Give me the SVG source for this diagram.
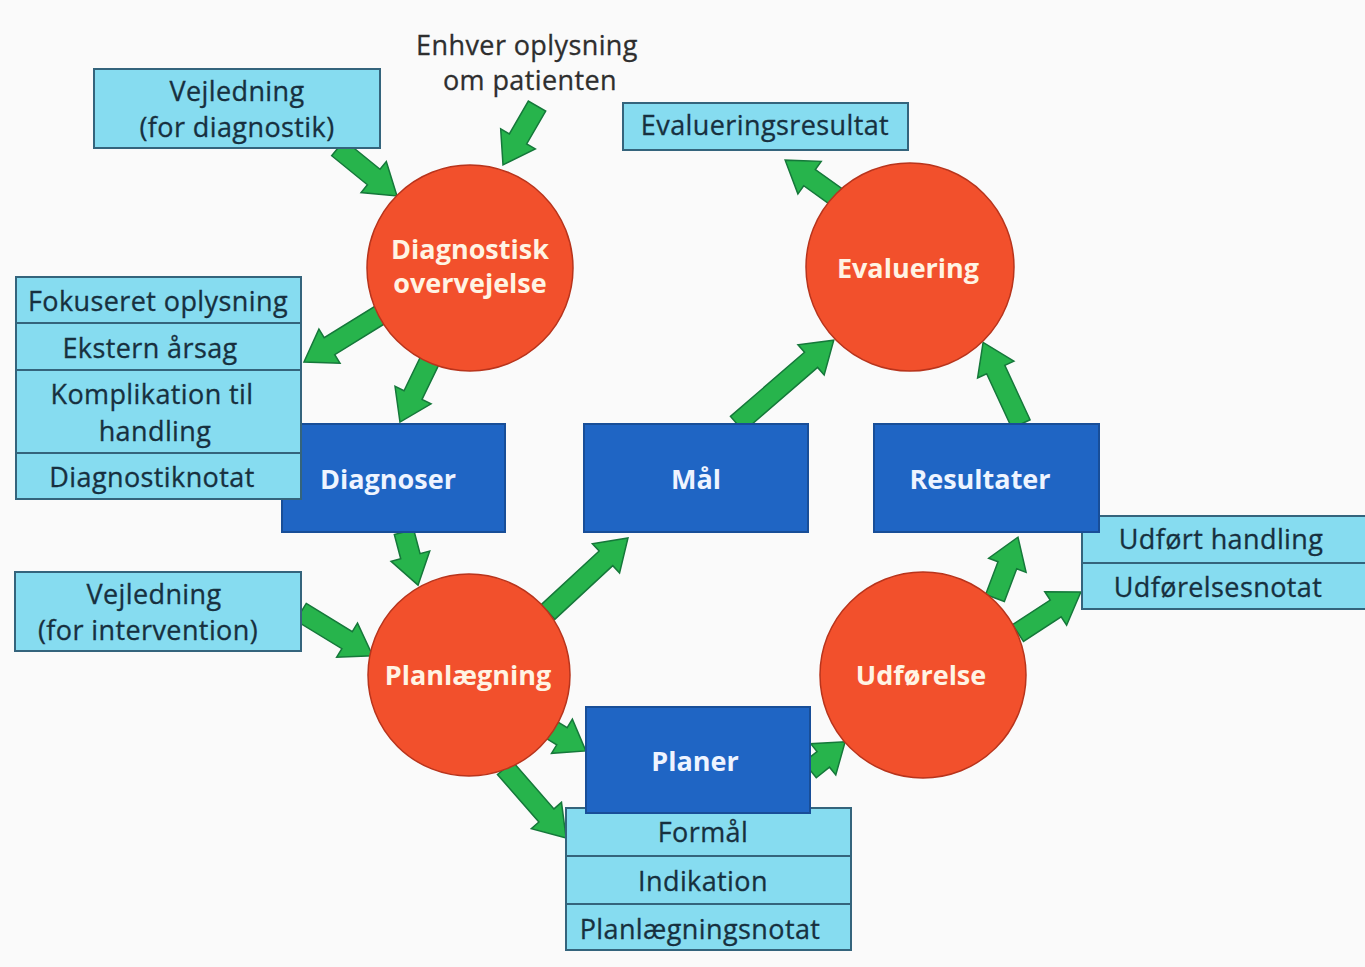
<svg xmlns="http://www.w3.org/2000/svg" width="1365" height="967" viewBox="0 0 1365 967">
  <style>
    .bg { fill: #fafafa; }
    .circle { fill: #f2502c; stroke: #b8341c; stroke-width: 1.5; }
    .proc { fill: #1f65c4; stroke: #184e98; stroke-width: 2; }
    .info { fill: #86dcf0; stroke: #34647c; stroke-width: 2; }
    .arrow { fill: #27b44c; stroke: #15783a; stroke-width: 1.5; stroke-linejoin: miter; }
    text { font-family: "Open Sans", "Noto Sans", "Liberation Sans", sans-serif; text-anchor: middle; }
    .lbl { font-size: 27px; letter-spacing: 0.4px; fill: #17303f; stroke: #17303f; stroke-width: 0.3; }
    .cl { font-size: 27px; font-weight: bold; fill: #fff4e4; }
    .pl { font-size: 27px; font-weight: bold; fill: #eef4ff; }
    .free { font-size: 27px; letter-spacing: 0.4px; fill: #2e2e2e; stroke: #2e2e2e; stroke-width: 0.3; }
  </style>

  <rect class="bg" x="0" y="0" width="1365" height="967"/>

  <!-- connectors: each arrow is drawn along +x then placed with translate/rotate -->
  <g id="connectors">
    <path class="arrow" transform="translate(338,148) rotate(39.1)" d="M0,-10 L46,-10 L46,-20 L76,0 L46,20 L46,10 L0,10 Z"/>
    <path class="arrow" transform="translate(537,106) rotate(120)" d="M0,-10 L38,-10 L38,-20 L68,0 L38,20 L38,10 L0,10 Z"/>
    <path class="arrow" transform="translate(383,313) rotate(148.2)" d="M0,-10 L63,-10 L63,-20 L93,0 L63,20 L63,10 L0,10 Z"/>
    <path class="arrow" transform="translate(430,360) rotate(115.8)" d="M0,-10 L39,-10 L39,-20 L69,0 L39,20 L39,10 L0,10 Z"/>
    <path class="arrow" transform="translate(404,532) rotate(75.2)" d="M0,-10 L25,-10 L25,-20 L55,0 L25,20 L25,10 L0,10 Z"/>
    <path class="arrow" transform="translate(301,612) rotate(31.4)" d="M0,-10 L54,-10 L54,-20 L84,0 L54,20 L54,10 L0,10 Z"/>
    <path class="arrow" transform="translate(548,612) rotate(-42.8)" d="M0,-10 L79,-10 L79,-20 L109,0 L79,20 L79,10 L0,10 Z"/>
    <path class="arrow" transform="translate(737,424) rotate(-40.9)" d="M0,-10 L98,-10 L98,-20 L128,0 L98,20 L98,10 L0,10 Z"/>
    <path class="arrow" transform="translate(550,729) rotate(31.4)" d="M0,-10 L14,-10 L14,-20 L42,0 L14,20 L14,10 L0,10 Z"/>
    <path class="arrow" transform="translate(505,768) rotate(48.9)" d="M0,-10 L63,-10 L63,-20 L93,0 L63,20 L63,10 L0,10 Z"/>
    <path class="arrow" transform="translate(810,770) rotate(-38.7)" d="M0,-10 L17,-10 L17,-20 L45,0 L17,20 L17,10 L0,10 Z"/>
    <path class="arrow" transform="translate(995,598) rotate(-69.3)" d="M0,-10 L35,-10 L35,-20 L65,0 L35,20 L35,10 L0,10 Z"/>
    <path class="arrow" transform="translate(1018,633) rotate(-33.1)" d="M0,-10 L45,-10 L45,-20 L75,0 L45,20 L45,10 L0,10 Z"/>
    <path class="arrow" transform="translate(1021,424) rotate(-114.9)" d="M0,-10 L60,-10 L60,-20 L90,0 L60,20 L60,10 L0,10 Z"/>
    <path class="arrow" transform="translate(838,198) rotate(-144.4)" d="M0,-10 L35,-10 L35,-20 L65,0 L35,20 L35,10 L0,10 Z"/>
  </g>

  <!-- free-standing input label -->
  <g id="input-patient">
    <text class="free" x="527" y="55">Enhver oplysning</text>
    <text class="free" x="530" y="90">om patienten</text>
  </g>

  <g id="vejledning-diagnostik">
    <rect class="info" x="94" y="69" width="286" height="79"/>
    <text class="lbl" x="237" y="101">Vejledning</text>
    <text class="lbl" x="237" y="137">(for diagnostik)</text>
  </g>

  <g id="evalueringsresultat">
    <rect class="info" x="623" y="103" width="285" height="47"/>
    <text class="lbl" x="765" y="135">Evalueringsresultat</text>
  </g>

  <!-- process boxes -->
  <g id="diagnoser">
    <rect class="proc" x="282" y="424" width="223" height="108"/>
    <text class="pl" x="388" y="489">Diagnoser</text>
  </g>

  <g id="diagnose-output">
    <rect class="info" x="16" y="277" width="285" height="46"/>
    <rect class="info" x="16" y="323" width="285" height="47"/>
    <rect class="info" x="16" y="370" width="285" height="83"/>
    <rect class="info" x="16" y="453" width="285" height="46"/>
    <text class="lbl" x="158" y="311">Fokuseret oplysning</text>
    <text class="lbl" x="150" y="358">Ekstern årsag</text>
    <text class="lbl" x="152" y="404">Komplikation til</text>
    <text class="lbl" x="155" y="441">handling</text>
    <text class="lbl" x="152" y="487">Diagnostiknotat</text>
  </g>

  <g id="maal">
    <rect class="proc" x="584" y="424" width="224" height="108"/>
    <text class="pl" x="696" y="489">Mål</text>
  </g>

  <g id="udfoerelse-output">
    <rect class="info" x="1082" y="516" width="300" height="47"/>
    <rect class="info" x="1082" y="563" width="300" height="46"/>
    <text class="lbl" x="1221" y="549">Udført handling</text>
    <text class="lbl" x="1218" y="597">Udførelsesnotat</text>
  </g>

  <g id="resultater">
    <rect class="proc" x="874" y="424" width="225" height="108"/>
    <text class="pl" x="980" y="489">Resultater</text>
  </g>

  <g id="vejledning-intervention">
    <rect class="info" x="15" y="572" width="286" height="79"/>
    <text class="lbl" x="154" y="604">Vejledning</text>
    <text class="lbl" x="148" y="640">(for intervention)</text>
  </g>

  <g id="planer-output">
    <rect class="info" x="566" y="808" width="285" height="48"/>
    <rect class="info" x="566" y="856" width="285" height="48"/>
    <rect class="info" x="566" y="904" width="285" height="46"/>
    <text class="lbl" x="703" y="842">Formål</text>
    <text class="lbl" x="703" y="891">Indikation</text>
    <text class="lbl" x="700" y="939">Planlægningsnotat</text>
  </g>

  <g id="planer">
    <rect class="proc" x="586" y="707" width="224" height="106"/>
    <text class="pl" x="695" y="771">Planer</text>
  </g>

  <!-- process circles -->
  <g id="diagnostisk-overvejelse">
    <circle class="circle" cx="470" cy="268" r="103"/>
    <text class="cl" x="470" y="259">Diagnostisk</text>
    <text class="cl" x="470" y="293">overvejelse</text>
  </g>

  <g id="evaluering">
    <circle class="circle" cx="910" cy="267" r="104"/>
    <text class="cl" x="908" y="278">Evaluering</text>
  </g>

  <g id="planlaegning">
    <circle class="circle" cx="469" cy="675" r="101"/>
    <text class="cl" x="468" y="685">Planlægning</text>
  </g>

  <g id="udfoerelse">
    <circle class="circle" cx="923" cy="675" r="103"/>
    <text class="cl" x="921" y="685">Udførelse</text>
  </g>
</svg>
